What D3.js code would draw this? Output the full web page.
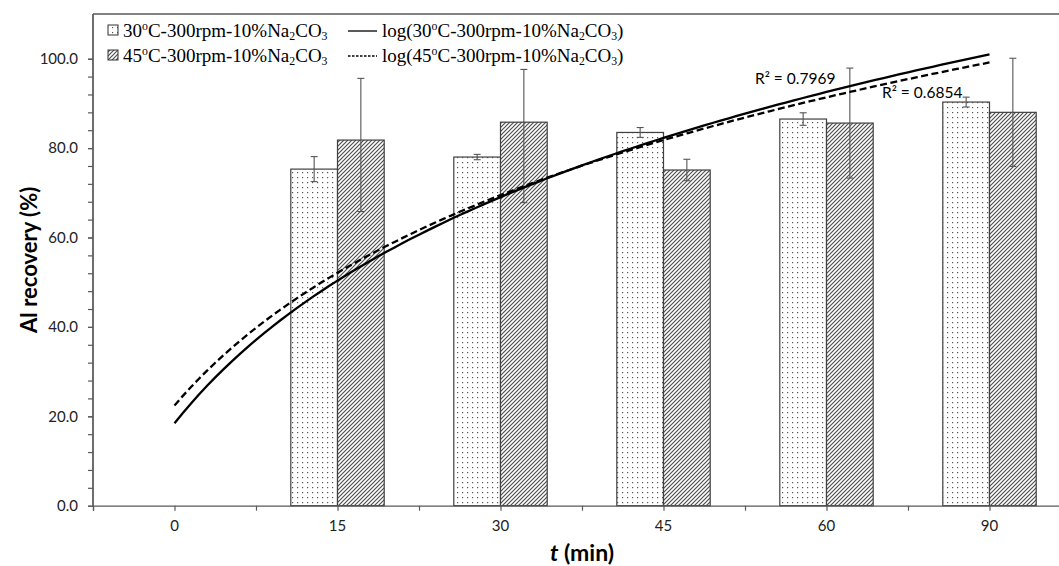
<!DOCTYPE html>
<html><head><meta charset="utf-8">
<script src="https://cdn.jsdelivr.net/npm/d3@7"></script>
<style>html,body{margin:0;padding:0;background:#fff;overflow:hidden}</style>
</head><body>
<svg id="chart" width="1059" height="566"></svg>
<script>
// ---- data ----
const categories = ["0", "15", "30", "45", "60", "90"];
const recovery30 = [0, 75.3, 78.0, 83.5, 86.5, 90.3];
const recovery45 = [0, 81.8, 85.8, 75.1, 85.6, 88.0];
const err30 = [0, 2.8, 0.6, 1.1, 1.4, 1.1];
const err45Plus = [0, 13.8, 11.8, 2.4, 12.3, 12.1];
const err45Minus = [0, 16.0, 18.0, 2.4, 12.3, 12.1];
const yMajorTicks = [0, 20, 40, 60, 80, 100];
const yMinorTicks = d3.range(0, 101, 4);
const r2Labels = ["R\u00B2 = 0.7969", "R\u00B2 = 0.6854"];

const svg = d3.select("#chart");
const sans = "Lato, 'Open Sans', sans-serif";
const serif = "'Liberation Serif', 'Times New Roman', serif";
const axisColor = "#595959";

const pL = 93, pR = 1071, pT = 14, pB = 505.7;
const x = d3.scaleBand().domain(categories).range([pL, pR]).paddingInner(0.427).paddingOuter(0.2135);
const xSub = d3.scaleBand().domain(["30", "45"]).range([0, x.bandwidth()]);
const xIdx = d3.scaleLinear().domain([0.5, categories.length + 0.5]).range([pL, pR]);
const y = d3.scaleLinear().domain([0, 110]).range([pB, pT]);

// ---- patterns ----
const defs = svg.append("defs");
const dots = defs.append("pattern").attr("id", "dots").attr("patternUnits", "userSpaceOnUse")
  .attr("width", 5).attr("height", 5);
dots.append("rect").attr("width", 5).attr("height", 5).attr("fill", "#fff");
dots.append("rect").attr("x", 2).attr("y", 2).attr("width", 1.2).attr("height", 1.2).attr("fill", "#555");
const hatch = defs.append("pattern").attr("id", "hatch").attr("patternUnits", "userSpaceOnUse")
  .attr("width", 4).attr("height", 4);
hatch.append("rect").attr("width", 4).attr("height", 4).attr("fill", "#fff");
hatch.append("path").attr("d", "M-1,1 L1,-1 M0,4 L4,0 M3,5 L5,3").attr("stroke", "#505050").attr("stroke-width", 1.2);

// ---- frame top ----
svg.append("line").attr("x1", pL).attr("x2", pR).attr("y1", pT).attr("y2", pT)
  .attr("stroke", axisColor).attr("stroke-width", 1.3);

// ---- bars ----
const series = [
  {key: "30", values: recovery30, fill: "url(#dots)", ep: err30, em: err30},
  {key: "45", values: recovery45, fill: "url(#hatch)", ep: err45Plus, em: err45Minus}
];
series.forEach(s => {
  const g = svg.append("g");
  const data = categories.map((c, i) => ({c, v: s.values[i], ep: s.ep[i], em: s.em[i]})).filter(d => d.v > 0);
  g.selectAll("rect").data(data).join("rect")
    .attr("x", d => x(d.c) + xSub(s.key))
    .attr("y", d => y(d.v))
    .attr("width", xSub.bandwidth())
    .attr("height", d => y(0) - y(d.v))
    .attr("fill", s.fill).attr("stroke", "#404040").attr("stroke-width", 1.2);
  const eg = g.selectAll("g.err").data(data).join("g").attr("class", "err");
  const cx = d => x(d.c) + xSub(s.key) + xSub.bandwidth() / 2;
  eg.append("line").attr("x1", cx).attr("x2", cx).attr("y1", d => y(d.v + d.ep)).attr("y2", d => y(d.v - d.em))
    .attr("stroke", "#555").attr("stroke-width", 1.1);
  [d => d.v + d.ep, d => d.v - d.em].forEach(f => {
    eg.append("line").attr("x1", d => cx(d) - 3.5).attr("x2", d => cx(d) + 3.5)
      .attr("y1", d => y(f(d))).attr("y2", d => y(f(d)))
      .attr("stroke", "#555").attr("stroke-width", 1.1);
  });
});

// ---- logarithmic trendlines (least squares on ln(index)) ----
function logFit(vals) {
  const xs = vals.map((v, i) => Math.log(i + 1));
  const mx = d3.mean(xs), my = d3.mean(vals);
  const a = d3.sum(xs.map((xv, i) => (xv - mx) * (vals[i] - my))) / d3.sum(xs.map(xv => (xv - mx) ** 2));
  return {a, b: my - a * mx};
}
const line = d3.line().x(d => xIdx(d[0])).y(d => y(d[1]));
[[recovery30, null], [recovery45, "7,3.5"]].forEach(([vals, dash]) => {
  const f = logFit(vals);
  const pts = d3.range(1, categories.length + 0.001, 0.05).map(t => [t, f.a * Math.log(t) + f.b]);
  svg.append("path").attr("d", line(pts)).attr("fill", "none").attr("stroke", "#000")
    .attr("stroke-width", 2.3).attr("stroke-dasharray", dash);
});

// ---- R² labels ----
svg.append("text").attr("x", 755).attr("y", 84).text(r2Labels[0])
  .attr("font-family", sans).attr("font-size", 15.5).attr("fill", "#000");
svg.append("text").attr("x", 882).attr("y", 98).text(r2Labels[1])
  .attr("font-family", sans).attr("font-size", 15.5).attr("fill", "#000");

// ---- axes ----
const yMinor = svg.append("g").attr("transform", `translate(${pL},0)`)
  .call(d3.axisLeft(y).tickValues(yMinorTicks).tickSize(5).tickFormat(""));
const yAx = svg.append("g").attr("transform", `translate(${pL},0)`)
  .call(d3.axisLeft(y).tickValues(yMajorTicks).tickSize(5).tickPadding(10).tickFormat(d3.format(".1f")));
[yMinor, yAx].forEach(g => {
  g.select(".domain").attr("stroke", axisColor).attr("stroke-width", 1.3).attr("d", `M0,${pT}V${pB}`);
  g.selectAll(".tick line").attr("stroke", axisColor).attr("stroke-width", 1.2);
});
yAx.selectAll(".tick text").attr("font-family", sans).attr("font-size", 15).attr("fill", "#222");

const xTicks = svg.append("g").attr("transform", `translate(0,${pB})`)
  .call(d3.axisBottom(xIdx).tickValues(d3.range(0.5, categories.length + 0.51, 0.5)).tickSize(5).tickFormat(""));
xTicks.select(".domain").attr("stroke", axisColor).attr("stroke-width", 1.3);
xTicks.selectAll(".tick line").attr("stroke", axisColor).attr("stroke-width", 1.2);
const xAx = svg.append("g").attr("transform", `translate(0,${pB})`)
  .call(d3.axisBottom(x).tickSize(0).tickPadding(15));
xAx.select(".domain").remove();
xAx.selectAll(".tick text").attr("font-family", sans).attr("font-size", 15).attr("fill", "#222");

// ---- axis titles ----
const xt = svg.append("text").attr("x", (pL + pR) / 2).attr("y", 561).attr("text-anchor", "middle")
  .attr("font-family", sans).attr("font-size", 23).attr("font-weight", "bold").attr("fill", "#000");
xt.append("tspan").attr("font-style", "italic").text("t");
xt.append("tspan").text(" (min)");
svg.append("text").attr("transform", `translate(37,${(pT + pB) / 2}) rotate(-90)`).attr("text-anchor", "middle")
  .attr("font-family", sans).attr("font-size", 22).attr("font-weight", "bold").attr("fill", "#000")
  .text("Al recovery (%)");

// ---- legend ----
const legendRows = [
  {fill: "url(#dots)", dash: null, label: "30", y: 37},
  {fill: "url(#hatch)", dash: "2.5,1.5", label: "45", y: 62}
];
function richText(sel, parts) {
  parts.forEach(([t, kind]) => {
    const ts = sel.append("tspan").text(t);
    if (kind === "sup") ts.attr("font-size", "0.62em").attr("dy", -7);
    if (kind === "sub") ts.attr("font-size", "0.62em").attr("dy", 3);
    if (kind === "supEnd") ts.attr("dy", 7);
    if (kind === "subEnd") ts.attr("dy", -3);
  });
}
const lg = svg.append("g");
legendRows.forEach(r => {
  lg.append("rect").attr("x", 108).attr("y", r.y - 12).attr("width", 10).attr("height", 10)
    .attr("fill", r.fill).attr("stroke", "#333").attr("stroke-width", 1);
  const t1 = lg.append("text").attr("x", 123).attr("y", r.y).attr("font-family", serif)
    .attr("font-size", 19).attr("fill", "#000");
  richText(t1, [[r.label, ""], ["o", "sup"], ["C-300rpm-10%Na", "supEnd"], ["2", "sub"], ["CO", "subEnd"], ["3", "sub"]]);
  lg.append("line").attr("x1", 348).attr("x2", 377).attr("y1", r.y - 6).attr("y2", r.y - 6)
    .attr("stroke", "#000").attr("stroke-width", 1.3).attr("stroke-dasharray", r.dash);
  const t2 = lg.append("text").attr("x", 382).attr("y", r.y).attr("font-family", serif)
    .attr("font-size", 19).attr("fill", "#000");
  richText(t2, [["log(" + r.label, ""], ["o", "sup"], ["C-300rpm-10%Na", "supEnd"], ["2", "sub"], ["CO", "subEnd"], ["3", "sub"], [")", "subEnd"]]);
});
</script>
</body></html>
